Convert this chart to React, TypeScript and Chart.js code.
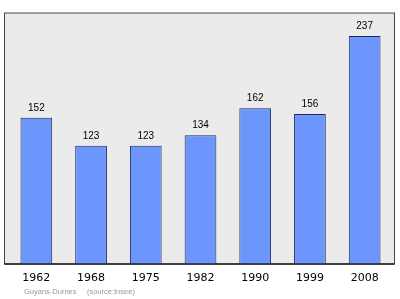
import React, { useEffect, useRef } from "react";
import { Chart, registerables } from "chart.js";

Chart.register(...registerables);

const years = ["1962", "1968", "1975", "1982", "1990", "1999", "2008"];
const population = [152, 123, 123, 134, 162, 156, 237];
const footerText = "Guyans-Durnes     (source:Insee)";

const framePlugin = {
  id: "frame",
  beforeDraw(chart: any) {
    const { ctx, chartArea } = chart;
    const l = chartArea.left - 4.5;
    const r = chartArea.right + 2.5;
    const t = chartArea.top;
    const b = chartArea.bottom;
    ctx.save();
    ctx.fillStyle = "#ebebeb";
    ctx.fillRect(l, t, r - l, b - t);
    ctx.strokeStyle = "#444";
    ctx.lineWidth = 1;
    ctx.strokeRect(l, t, r - l, b - t);
    ctx.restore();
  },
  afterDatasetsDraw(chart: any) {
    const { ctx, chartArea } = chart;
    const meta = chart.getDatasetMeta(0);
    ctx.save();
    ctx.strokeStyle = "#222";
    ctx.lineWidth = 1.5;
    ctx.beginPath();
    ctx.moveTo(chartArea.left - 4.5, chartArea.bottom);
    ctx.lineTo(chartArea.right + 2.5, chartArea.bottom);
    ctx.stroke();
    ctx.fillStyle = "#000";
    ctx.font = "10px 'Liberation Sans', Arial, sans-serif";
    ctx.textAlign = "center";
    ctx.textBaseline = "alphabetic";
    meta.data.forEach((bar: any, i: number) => {
      ctx.fillText(String(population[i]), bar.x, bar.y - 7);
    });
    ctx.fillStyle = "#999";
    ctx.font = "7.5px 'Liberation Sans', Arial, sans-serif";
    ctx.textAlign = "left";
    ctx.fillText(footerText, chartArea.left + 15, 294);
    ctx.restore();
  },
};

export default function App() {
  const ref = useRef<HTMLCanvasElement | null>(null);
  useEffect(() => {
    if (!ref.current) return;
    const chart = new Chart(ref.current, {
      type: "bar",
      data: {
        labels: years,
        datasets: [
          {
            data: population,
            backgroundColor: (c: any) => {
              const el = c.element;
              const ctx = c.chart.ctx;
              if (!el || !isFinite(el.x)) return "#6d96fd";
              const w = el.width || 31;
              const g = ctx.createLinearGradient(el.x - w / 2, 0, el.x + w / 2, 0);
              g.addColorStop(0, "#5f82e6");
              g.addColorStop(0.15, "#6d92fb");
              g.addColorStop(1, "#6d9cff");
              return g;
            },
            borderColor: "#1e2a58",
            borderWidth: 1,
            barPercentage: 0.58,
            categoryPercentage: 1,
          },
        ],
      },
      options: {
        responsive: false,
        animation: false,
        layout: { padding: { left: 9, right: 8, top: 13, bottom: 0 } },
        plugins: { legend: { display: false }, tooltip: { enabled: false } },
        scales: {
          y: { display: false, min: 0, max: 261 },
          x: {
            grid: { display: false, drawTicks: false },
            border: { display: false },
            ticks: {
              color: "#000",
              padding: 8,
              font: { family: "'DejaVu Sans', sans-serif", size: 11 },
            },
            afterFit: (scale: any) => {
              scale.height = 35;
            },
          },
        },
      },
      plugins: [framePlugin],
    });
    return () => chart.destroy();
  }, []);
  return (
    <div style={{ position: "absolute", left: 0, top: 0, width: 400, height: 299, background: "#fff" }}>
      <canvas ref={ref} width={400} height={299} />
    </div>
  );
}
